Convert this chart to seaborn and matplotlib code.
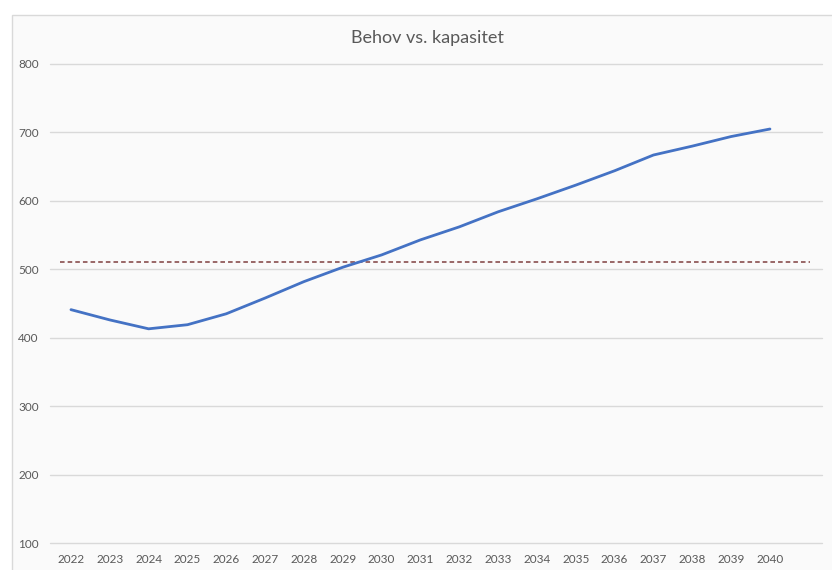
import matplotlib
matplotlib.use("Agg")
import matplotlib.pyplot as plt
import matplotlib.patches as mpatches
import seaborn as sns
import pandas as pd

years = list(range(2022, 2041))
behov = [441, 426, 413, 419, 435, 458, 482, 503, 521, 543, 562, 584, 603, 623, 644, 667, 680, 694, 705]
kap_x = [2021.72, 2041.03]
kap = [511, 511]
y_ticks = [100, 200, 300, 400, 500, 600, 700, 800]
title = "Behov vs. kapasitet"

sns.set_theme(style="white")
plt.rcParams['font.family'] = ['Lato', 'DejaVu Sans']

W, H = 832, 570
fig = plt.figure(figsize=(W / 100, H / 100), dpi=100)
fig.patch.set_facecolor("white")
fig.patches.append(mpatches.Rectangle((12 / W, -0.05), 1.1, 1.05 - 15 / H, transform=fig.transFigure,
                                      facecolor="#fafafa", edgecolor="#d9d9d9", linewidth=1.0, zorder=-10))

ax = fig.add_axes([50 / W, (H - 543) / H, (822 - 50) / W, (543 - 64) / H])
ax.set_facecolor("none")
ax.set_zorder(5)

df_b = pd.DataFrame({"year": years, "value": behov})
df_k = pd.DataFrame({"year": kap_x, "value": kap})
sns.lineplot(data=df_b, x="year", y="value", ax=ax, color="#4472C4", linewidth=2.0, zorder=3)
sns.lineplot(data=df_k, x="year", y="value", ax=ax, color="#7f3f3f", linewidth=1.1,
             linestyle=(0, (3, 2)), zorder=2)

ax.set_xlim(2021.46, 2041.34)
ax.set_ylim(100, 800)
ax.set_yticks(y_ticks)
ax.set_xticks(years)
ax.set_xticklabels([str(y) for y in years])
ax.grid(axis="y", color="#d9d9d9", linewidth=1.0, zorder=0)
for gl in ax.get_ygridlines():
    gl.set_clip_on(False)
ax.grid(axis="x", visible=False)
for s in ax.spines.values():
    s.set_visible(False)
ax.tick_params(axis="both", length=0, labelsize=8.5, labelcolor="#595959")
ax.tick_params(axis="y", pad=8)
ax.tick_params(axis="x", pad=8)
ax.set_xlabel("")
ax.set_ylabel("")
fig.text(427 / W, 1 - 38 / H, title, ha="center", va="center", fontsize=13, color="#595959")

fig.savefig("out.png", dpi=100)
